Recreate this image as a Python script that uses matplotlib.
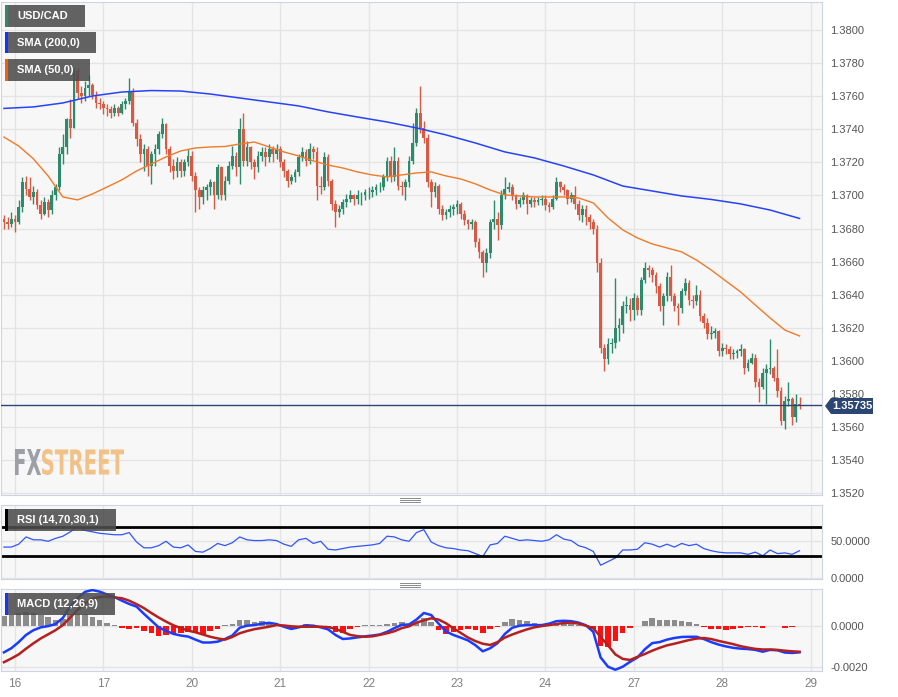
import matplotlib.pyplot as plt
import numpy as np
from matplotlib.font_manager import FontProperties
from matplotlib.lines import Line2D
from matplotlib.patches import PathPatch, Polygon, Rectangle
from matplotlib.textpath import TextPath
from matplotlib.transforms import Affine2D

plt.rcParams['font.family'] = ['Liberation Sans', 'DejaVu Sans']

# hourly USD/CAD candles, first one 3 hours before the 16th
first_hour = -3
close = [
    1.3684, 1.3683, 1.3686,
    1.3684, 1.3693, 1.3708, 1.3704, 1.3699, 1.3702, 1.3694, 1.3689, 1.3696, 1.3691, 1.3700, 1.3705,
    1.3725, 1.3729, 1.3746, 1.3741, 1.3775, 1.3762, 1.3760, 1.3765, 1.3767, 1.3761, 1.3756, 1.3755,
    1.3753, 1.3752, 1.3750, 1.3753, 1.3750, 1.3755, 1.3757, 1.3763, 1.3744, 1.3734, 1.3725, 1.3728,
    1.3718, 1.3725, 1.3728, 1.3737, 1.3743, 1.3728, 1.3718, 1.3715, 1.3720, 1.3715, 1.3720, 1.3724,
    1.3712, 1.3703, 1.3699, 1.3703, 1.3705, 1.3708, 1.3700, 1.3717, 1.3700, 1.3709, 1.3718, 1.3724,
    1.3717, 1.3740, 1.3721, 1.3729, 1.3720, 1.3717, 1.3724, 1.3726, 1.3723, 1.3728, 1.3725, 1.3728,
    1.3720, 1.3715, 1.3709, 1.3711, 1.3714, 1.3723, 1.3726, 1.3721, 1.3728, 1.3726, 1.3706, 1.3705,
    1.3723, 1.3709, 1.3695, 1.3690, 1.3692, 1.3696, 1.3698, 1.3700, 1.3698, 1.3700, 1.3700, 1.3702,
    1.3702, 1.3703, 1.3705, 1.3705, 1.3711, 1.3721, 1.3711, 1.3721, 1.3706, 1.3705, 1.3708, 1.3721,
    1.3732, 1.3750, 1.3741, 1.3735, 1.3708, 1.3702, 1.3706, 1.3692, 1.3688, 1.3690, 1.3692, 1.3693,
    1.3695, 1.3689, 1.3685, 1.3683, 1.3684, 1.3672, 1.3666, 1.3659, 1.3665, 1.3684, 1.3686, 1.3682,
    1.3700, 1.3704, 1.3705, 1.3700, 1.3695, 1.3697, 1.3700, 1.3695, 1.3697, 1.3696, 1.3697, 1.3698,
    1.3694, 1.3693, 1.3698, 1.3708, 1.3705, 1.3703, 1.3698, 1.3700, 1.3695, 1.3688, 1.3692, 1.3687,
    1.3684, 1.3680, 1.3659, 1.3608, 1.3601, 1.3610, 1.3611, 1.3620, 1.3622, 1.3633, 1.3634, 1.3631,
    1.3638, 1.3631, 1.3649, 1.3656, 1.3655, 1.3652, 1.3645, 1.3633, 1.3639, 1.3651, 1.3639, 1.3633,
    1.3632, 1.3642, 1.3647, 1.3637, 1.3636, 1.3640, 1.3627, 1.3623, 1.3616, 1.3617, 1.3618, 1.3606,
    1.3608, 1.3607, 1.3604, 1.3605, 1.3606, 1.3607, 1.3596, 1.3599, 1.3602, 1.3587, 1.3584,
    1.3593, 1.3595, 1.3596, 1.3590, 1.3582, 1.3564, 1.3576, 1.3577, 1.3566, 1.3574, 1.35735,
]
high = [
    1.3688, 1.3687, 1.3690,
    1.3688, 1.3697, 1.3711, 1.3712, 1.3711, 1.3706, 1.3704, 1.3697, 1.3699, 1.3698, 1.3703, 1.3707,
    1.3729, 1.3737, 1.3747, 1.3758, 1.3777, 1.3777, 1.3766, 1.3769, 1.3773, 1.3768, 1.3763, 1.3759,
    1.3757, 1.3755, 1.3754, 1.3755, 1.3754, 1.3757, 1.3759, 1.3771, 1.3765, 1.3746, 1.3737, 1.3731,
    1.3730, 1.3727, 1.3731, 1.3739, 1.3747, 1.3744, 1.3730, 1.3722, 1.3723, 1.3722, 1.3722, 1.3728,
    1.3727, 1.3714, 1.3705, 1.3706, 1.3707, 1.3710, 1.3709, 1.3719, 1.3718, 1.3712, 1.3721, 1.3730,
    1.3726, 1.3747, 1.3750, 1.3733, 1.3730, 1.3722, 1.3727, 1.3729, 1.3729, 1.3731, 1.3730, 1.3731,
    1.3730, 1.3722, 1.3716, 1.3713, 1.3716, 1.3725, 1.3729, 1.3728, 1.3732, 1.3730, 1.3729, 1.3712,
    1.3726, 1.3725, 1.3710, 1.3697, 1.3694, 1.3698, 1.3701, 1.3703, 1.3701, 1.3703, 1.3702, 1.3704,
    1.3705, 1.3706, 1.3707, 1.3708, 1.3713, 1.3723, 1.3724, 1.3729, 1.3723, 1.3709, 1.3710, 1.3724,
    1.3744, 1.3753, 1.3766, 1.3745, 1.3737, 1.3710, 1.3708, 1.3707, 1.3694, 1.3692, 1.3694, 1.3695,
    1.3697, 1.3696, 1.3691, 1.3686, 1.3686, 1.3685, 1.3674, 1.3667, 1.3668, 1.3686, 1.3697, 1.3690,
    1.3703, 1.3711, 1.3708, 1.3707, 1.3701, 1.3699, 1.3702, 1.3701, 1.3699, 1.3699, 1.3699, 1.3700,
    1.3700, 1.3696, 1.3700, 1.3711, 1.3709, 1.3707, 1.3704, 1.3702, 1.3706, 1.3697, 1.3694, 1.3694,
    1.3689, 1.3686, 1.3682, 1.3662, 1.3610, 1.3614, 1.3614, 1.3650, 1.3626, 1.3636, 1.3639, 1.3638,
    1.3641, 1.3640, 1.3651, 1.3660, 1.3658, 1.3657, 1.3654, 1.3647, 1.3641, 1.3654, 1.3658, 1.3641,
    1.3635, 1.3644, 1.3650, 1.3649, 1.3640, 1.3646, 1.3643, 1.3629, 1.3626, 1.3621, 1.3620, 1.3619,
    1.3611, 1.3610, 1.3609, 1.3607, 1.3607, 1.3610, 1.3608, 1.3601, 1.3605, 1.3604, 1.3590,
    1.3596, 1.3598, 1.3613, 1.3597, 1.3607, 1.3584, 1.3579, 1.3587, 1.3578, 1.3580, 1.3578,
]
low = [
    1.3680, 1.3680, 1.3681,
    1.3678, 1.3683, 1.3690, 1.3700, 1.3697, 1.3695, 1.3692, 1.3686, 1.3688, 1.3687, 1.3689, 1.3697,
    1.3703, 1.3719, 1.3725, 1.3735, 1.3741, 1.3758, 1.3756, 1.3757, 1.3760, 1.3758, 1.3753, 1.3752,
    1.3749, 1.3748, 1.3747, 1.3748, 1.3748, 1.3749, 1.3752, 1.3755, 1.3742, 1.3730, 1.3720, 1.3715,
    1.3712, 1.3707, 1.3718, 1.3725, 1.3735, 1.3725, 1.3714, 1.3710, 1.3711, 1.3711, 1.3712, 1.3718,
    1.3709, 1.3690, 1.3692, 1.3695, 1.3697, 1.3700, 1.3692, 1.3698, 1.3697, 1.3697, 1.3707, 1.3716,
    1.3712, 1.3707, 1.3718, 1.3718, 1.3716, 1.3710, 1.3714, 1.3721, 1.3718, 1.3720, 1.3720, 1.3722,
    1.3717, 1.3711, 1.3705, 1.3707, 1.3708, 1.3712, 1.3721, 1.3718, 1.3719, 1.3722, 1.3697, 1.3701,
    1.3703, 1.3706, 1.3691, 1.3681, 1.3687, 1.3689, 1.3693, 1.3696, 1.3694, 1.3695, 1.3694, 1.3697,
    1.3698, 1.3699, 1.3700, 1.3702, 1.3703, 1.3709, 1.3708, 1.3709, 1.3703, 1.3700, 1.3697, 1.3705,
    1.3719, 1.3730, 1.3738, 1.3732, 1.3705, 1.3693, 1.3699, 1.3689, 1.3685, 1.3686, 1.3687, 1.3688,
    1.3689, 1.3686, 1.3682, 1.3680, 1.3680, 1.3669, 1.3662, 1.3651, 1.3654, 1.3662, 1.3680, 1.3673,
    1.3680, 1.3698, 1.3702, 1.3697, 1.3692, 1.3693, 1.3695, 1.3689, 1.3693, 1.3693, 1.3694, 1.3694,
    1.3691, 1.3690, 1.3692, 1.3697, 1.3702, 1.3700, 1.3695, 1.3696, 1.3692, 1.3685, 1.3684, 1.3682,
    1.3680, 1.3677, 1.3654, 1.3605, 1.3594, 1.3598, 1.3605, 1.3608, 1.3612, 1.3617, 1.3629, 1.3624,
    1.3625, 1.3628, 1.3628, 1.3647, 1.3651, 1.3648, 1.3641, 1.3630, 1.3622, 1.3636, 1.3636, 1.3630,
    1.3622, 1.3629, 1.3640, 1.3634, 1.3632, 1.3634, 1.3624, 1.3620, 1.3613, 1.3613, 1.3614, 1.3603,
    1.3603, 1.3604, 1.3601, 1.3601, 1.3602, 1.3603, 1.3592, 1.3594, 1.3598, 1.3584, 1.3575,
    1.3583, 1.3574, 1.3592, 1.3588, 1.3578, 1.3561, 1.3559, 1.3573, 1.3561, 1.3563, 1.3571,
]
first_open = 1.3686
last_price = 1.35735

# moving averages, sampled every 4 / 8 hours
sma50 = [
    1.37353, 1.37299, 1.37221, 1.37118, 1.36991, 1.36973, 1.37009, 1.37051, 1.37094, 1.37148,
    1.37190, 1.37233, 1.37269, 1.37287, 1.37293, 1.37296, 1.37311, 1.37323, 1.37293, 1.37263,
    1.37239, 1.37209, 1.37184, 1.37166, 1.37142, 1.37124, 1.37112, 1.37124, 1.37136, 1.37142,
    1.37118, 1.37100, 1.37070, 1.37033, 1.37003, 1.36997, 1.36991, 1.36991, 1.36991, 1.36985,
    1.36955, 1.36864, 1.36792, 1.36743, 1.36707, 1.36683, 1.36659, 1.36610, 1.36550, 1.36483,
    1.36417, 1.36338, 1.36260, 1.36187, 1.36151,
]
sma200 = [
    1.37526, 1.37535, 1.37559, 1.37601, 1.37625, 1.37634, 1.37631, 1.37613, 1.37589, 1.37565,
    1.37541, 1.37505, 1.37474, 1.37444, 1.37408, 1.37366, 1.37317, 1.37263, 1.37227, 1.37178,
    1.37124, 1.37057, 1.37027, 1.36997, 1.36976, 1.36949, 1.36912, 1.36861,
]

# indicators, sampled every 2 hours
rsi = [
    42, 42, 46, 56, 52, 52, 50, 54, 57, 63, 70, 65, 63, 61,
    60, 59, 59, 62, 49, 41, 41, 44, 50, 42, 41, 45,
    36, 35, 40, 47, 44, 48, 56, 52, 51, 51, 52, 51,
    46, 43, 52, 54, 47, 50, 39, 38, 40, 42, 43, 44,
    45, 47, 57, 56, 52, 50, 62, 66, 49, 44, 41, 40,
    38, 37, 33, 29, 45, 47, 57, 54, 51, 52, 51, 50,
    52, 59, 53, 51, 44, 41, 36, 17, 22, 27, 38, 38,
    39, 48, 46, 42, 46, 42, 47, 44, 46, 40, 37, 35,
    34, 34, 34, 32, 35, 30, 38, 33, 34, 32, 37,
]
macd = [
    -0.00130, -0.00110, -0.00080, -0.00045, -0.00022, -0.00008, -0.00002, 0.00008, 0.00038,
    0.00095, 0.00135, 0.00165, 0.00174, 0.00166,
    0.00152, 0.00140, 0.00122, 0.00106, 0.00093, 0.00058, 0.00025, -0.00008, -0.00025, -0.00040,
    -0.00048, -0.00053,
    -0.00068, -0.00082, -0.00082, -0.00078, -0.00065, -0.00048, -0.00010, 0.00000, 0.00003,
    0.00010, 0.00014, 0.00008,
    -0.00005, -0.00016, -0.00008, 0.00002, 0.00000, -0.00008, -0.00018, -0.00045, -0.00065,
    -0.00062, -0.00057, -0.00052,
    -0.00048, -0.00043, -0.00030, -0.00012, 0.00004, 0.00006, 0.00030, 0.00062, 0.00052,
    0.00010, -0.00028, -0.00045,
    -0.00058, -0.00072, -0.00095, -0.00125, -0.00110, -0.00085, -0.00040, -0.00010, 0.00000,
    0.00003, 0.00003, 0.00003,
    0.00010, 0.00022, 0.00024, 0.00022, 0.00015, 0.00002, -0.00030, -0.00155, -0.00200,
    -0.00215, -0.00200, -0.00176,
    -0.00155, -0.00115, -0.00085, -0.00080, -0.00068, -0.00060, -0.00055, -0.00054, -0.00054,
    -0.00065, -0.00080, -0.00092,
    -0.00101, -0.00108, -0.00112, -0.00114, -0.00118, -0.00127, -0.00118, -0.00120, -0.00131,
    -0.00133, -0.00130,
]
signal = [
    -0.00178, -0.00160, -0.00140, -0.00112, -0.00086, -0.00062, -0.00042, -0.00022, 0.00003,
    0.00040, 0.00078, 0.00108, 0.00132, 0.00140,
    0.00141, 0.00138, 0.00134, 0.00122, 0.00105, 0.00086, 0.00062, 0.00040, 0.00020, 0.00002,
    -0.00012, -0.00024,
    -0.00032, -0.00043, -0.00054, -0.00062, -0.00068, -0.00055, -0.00037, -0.00026, -0.00017,
    -0.00011, -0.00005, 0.00003,
    0.00001, -0.00003, -0.00005, -0.00005, -0.00005, -0.00005, -0.00007, -0.00015, -0.00030,
    -0.00045, -0.00051, -0.00054,
    -0.00052, -0.00045, -0.00037, -0.00027, -0.00012, -0.00003, 0.00015, 0.00026, 0.00036,
    0.00030, 0.00012, -0.00012,
    -0.00035, -0.00058, -0.00075, -0.00088, -0.00094, -0.00080, -0.00058, -0.00043, -0.00030,
    -0.00018, -0.00008, -0.00002,
    0.00003, 0.00008, 0.00013, 0.00015, 0.00010, 0.00000, -0.00012, -0.00055, -0.00096,
    -0.00140, -0.00162, -0.00167,
    -0.00152, -0.00138, -0.00122, -0.00108, -0.00096, -0.00088, -0.00079, -0.00070, -0.00063,
    -0.00060, -0.00065, -0.00074,
    -0.00082, -0.00090, -0.00100, -0.00107, -0.00113, -0.00116, -0.00116, -0.00118, -0.00122,
    -0.00125, -0.00127,
]

day_labels = ['16', '17', '20', '21', '22', '23', '24', '27', '28', '29']
price_ticks = np.arange(1.3520, 1.38001, 0.002)

GREEN = '#2e8a6c'
RED = '#d95a44'
BG = '#f7f7f7'
GRID = '#e4e4e4'
EDGE = '#cdd3e3'
TXT = '#555555'

W, H = 898, 697
fig = plt.figure(figsize=(W / 100, H / 100), dpi=100)


def panel(x0, y0, x1, y1):
    ax = fig.add_axes([x0 / W, 1 - y1 / H, (x1 - x0) / W, (y1 - y0) / H])
    ax.set_facecolor(BG)
    for s in ax.spines.values():
        s.set_color(EDGE)
    ax.set_xlim(-3.8, 219.1)
    ax.set_xticks(np.arange(len(day_labels)) * 24)
    ax.grid(True, color=GRID, lw=1)
    ax.set_axisbelow(True)
    ax.yaxis.tick_right()
    ax.tick_params(length=0, labelsize=8, labelcolor=TXT, pad=6)
    ax.tick_params(axis='x', labelbottom=False)
    return ax


ax = panel(1, 2, 822, 495)
ax_rsi = panel(1, 505, 822, 579)
ax_macd = panel(1, 589, 822, 671)

# candles
c = np.array(close)
o = np.r_[first_open, c[:-1]]
hi = np.maximum(np.array(high), np.maximum(o, c))
lo = np.minimum(np.array(low), np.minimum(o, c))
t = first_hour + np.arange(len(c))
cols = np.where(c >= o, GREEN, RED)
ax.vlines(t, lo, hi, colors=cols, lw=1, zorder=2)
ax.bar(t, np.maximum(np.abs(c - o), 0.00003), bottom=np.minimum(o, c), width=0.75,
       color=cols, zorder=3)

ax.plot(first_hour + 8 * np.arange(len(sma200)), sma200, color='#2742ff', lw=1.1, zorder=4)
ax.plot(first_hour + 4 * np.arange(len(sma50)), sma50, color='#f07a28', lw=1.0, zorder=4)
ax.axhline(last_price, color='#2b4675', lw=1, zorder=5)

ax.set_ylim(1.35190, 1.38169)
ax.set_yticks(price_ticks)
ax.set_yticklabels([f'{v:.4f}' for v in price_ticks])

# RSI
ti = first_hour + 2 * np.arange(len(rsi))
ax_rsi.plot(ti, rsi, color='#2f55ff', lw=0.9)
ax_rsi.axhline(70, color='black', lw=2)
ax_rsi.axhline(30, color='black', lw=2)
ax_rsi.set_ylim(-2, 100)
ax_rsi.set_yticks([0, 50])
ax_rsi.set_yticklabels(['0.0000', '50.0000'])

# MACD
m = np.array(macd)
s = np.array(signal)
hist = m - s
ax_macd.bar(ti, hist, width=1.5, color=np.where(hist >= 0, '#8c8c8c', '#ff1010'), zorder=2)
ax_macd.plot(ti, m, color='#1a3cff', lw=1.8, zorder=3)
ax_macd.plot(ti, s, color='#b5201e', lw=1.8, zorder=4)
ax_macd.set_ylim(-0.00221, 0.00179)
ax_macd.set_yticks([-0.002, 0])
ax_macd.set_yticklabels(['-0.0020', '0.0000'])
ax_macd.tick_params(axis='x', labelbottom=True, labelsize=8.5, labelcolor='#808080', pad=5)
ax_macd.set_xticklabels(day_labels)


def label_box(x0, y0, x1, y1, stripe, text):
    fig.add_artist(Rectangle((x0 / W, 1 - y1 / H), (x1 - x0) / W, (y1 - y0) / H,
                             transform=fig.transFigure, facecolor='#4d4d4d', alpha=0.88,
                             edgecolor='none', zorder=10))
    fig.add_artist(Rectangle((x0 / W, 1 - y1 / H), 2.5 / W, (y1 - y0) / H,
                             transform=fig.transFigure, facecolor=stripe,
                             edgecolor='none', zorder=11))
    fig.text((x0 + 12) / W, 1 - (y0 + y1) / 2 / H, text, color='white', weight='bold',
             size=8, va='center', zorder=12)


label_box(5, 5, 85, 27, GREEN, 'USD/CAD')
label_box(5, 32, 96, 53, '#1533ff', 'SMA (200,0)')
label_box(5, 59, 90, 81, '#f06010', 'SMA (50,0)')
label_box(5, 509, 116, 531, 'black', 'RSI (14,70,30,1)')
label_box(5, 593, 115, 615, '#1533ff', 'MACD (12,26,9)')

# current price tag
tag = [(825, 406), (831, 398), (873, 398), (873, 414), (831, 414)]
fig.add_artist(Polygon([(x / W, 1 - y / H) for x, y in tag], closed=True,
                       transform=fig.transFigure, facecolor='#2b4675', edgecolor='none'))
fig.text(852 / W, 1 - 406 / H, f'{last_price:.5f}', color='white', weight='bold',
         size=8, ha='center', va='center')

# panel grips
for yy in (498, 583):
    for k in range(3):
        y = 1 - (yy + 2 * k) / H
        fig.add_artist(Line2D([400 / W, 420 / W], [y, y], color='#8a8a8a', lw=0.7,
                              transform=fig.transFigure))


# FXSTREET watermark
def logo_word(word, x0, x1, y0, y1, color):
    tp = TextPath((0, 0), word, size=10, prop=FontProperties(family='DejaVu Sans', weight='bold'))
    bb = tp.get_extents()
    tr = (Affine2D().translate(-bb.x0, -bb.y0)
          .scale((x1 - x0) / bb.width / W, (y1 - y0) / bb.height / H)
          .translate(x0 / W, 1 - y1 / H))
    fig.add_artist(PathPatch(tp, transform=tr + fig.transFigure, facecolor=color,
                             edgecolor='none', zorder=5))


logo_word('FX', 15, 41, 449, 475, '#9d9ea6')
logo_word('STREET', 42, 124, 449, 475, '#f2c188')

fig.savefig('out.png', dpi=100)
